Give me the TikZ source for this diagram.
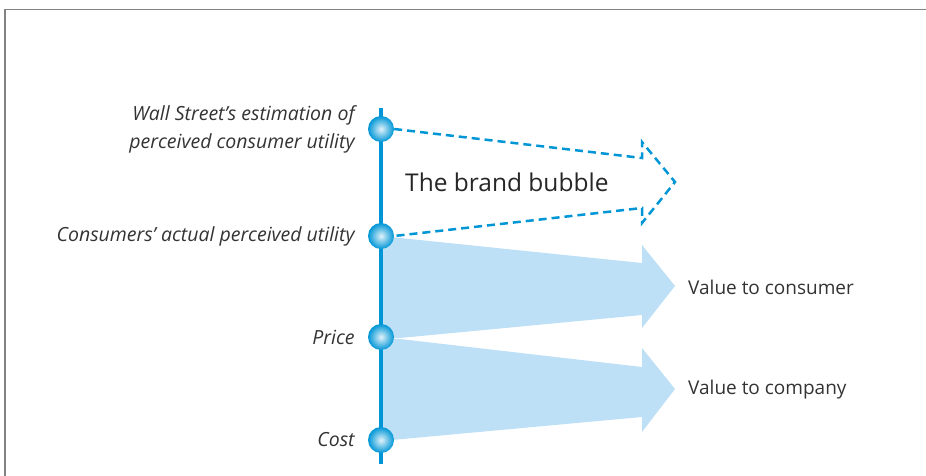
\documentclass[tikz,border=0pt]{standalone}
\usepackage{fontspec}
\setmainfont{Open Sans}
\usetikzlibrary{positioning}

\definecolor{axisblue}{RGB}{0,150,214}
\definecolor{fillblue}{RGB}{190,224,246}
\definecolor{textgray}{RGB}{51,51,51}
\definecolor{framegray}{RGB}{130,130,130}

\begin{document}
\begin{tikzpicture}[x=1pt, y=-1pt,
    ball/.style={circle, minimum size=26pt, inner sep=0pt, inner color=axisblue!12, outer color=axisblue},
    lbl/.style={font=\fontsize{19.5}{28}\selectfont\itshape, text=textgray, align=right, inner sep=0pt},
    vlbl/.style={font=\fontsize{19}{22}\selectfont, text=textgray, inner sep=0pt, anchor=west},
    bubble/.style={draw=axisblue, line width=2.5pt, dash pattern=on 8pt off 5pt, line join=miter}]

    \useasboundingbox (0,0) rectangle (926,476);

    % Frame
    \draw[framegray, line width=1.5pt] (5,476) -- (5,9.5) -- (926,9.5);

    % Value arrows
    \fill[fillblue] (381,236) -- (642,263) -- (642,245) -- (675,286) -- (642,328)
        -- (642,315) -- (400,338) -- (381,338) -- cycle;
    \fill[fillblue] (381,338) -- (400,339) -- (642,367) -- (642,348) -- (675,389)
        -- (642,432) -- (642,417) -- (381,441) -- cycle;

    % Axis
    \coordinate (axtop) at (381,108);
    \coordinate (axbot) at (381,464);
    \draw[axisblue, line width=4pt] (axtop) -- (axbot);

    % Balls
    \node[ball] (wall) at (381,129) {};
    \node[ball] (actual) at (381,236) {};
    \node[ball] (price) at (381,337) {};
    \node[ball] (cost) at (381,440) {};

    % Brand bubble
    \draw[bubble] (wall.east) -- (642,158) -- (642,142) -- (675,182) -- (642,223)
        -- (642,208) -- (actual.east);

    % Labels
    \node[lbl, left=13pt of wall] {Wall Street's estimation of\\perceived consumer utility};
    \node[lbl, left=13pt of actual] {Consumers' actual perceived utility};
    \node[lbl, left=13pt of price] {Price};
    \node[lbl, left=13pt of cost] {Cost};

    \node[font=\fontsize{24.5}{28}\selectfont, text=black!85, inner sep=0pt, anchor=west] (brand) at (405,182) {The brand bubble};
    \node[vlbl] (consumer) at (688,287) {Value to consumer};
    \node[vlbl] (company) at (688,390) {Value to company};

\end{tikzpicture}
\end{document}
